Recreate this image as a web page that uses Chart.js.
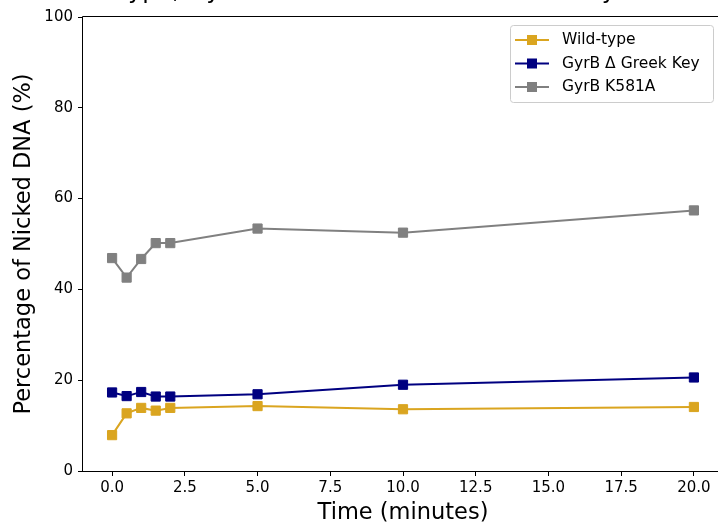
<!DOCTYPE html>
<html>
<head>
<meta charset="utf-8">
<script src="https://cdn.jsdelivr.net/npm/chart.js@4/dist/chart.umd.min.js"></script>
<style>
  html, body { margin: 0; padding: 0; background: #fff; overflow: hidden; }
  #wrap { position: relative; width: 718px; height: 524px; overflow: hidden; }
  canvas { position: absolute; left: 0; top: 0; }
</style>
</head>
<body>
<div id="wrap"><canvas id="chart" width="760" height="524"></canvas></div>
<script>
// Sampling times (minutes)
const times = [0, 0.5, 1, 1.5, 2, 5, 10, 20];

// Percentage of nicked DNA for each enzyme
const wildType  = [7.9, 12.7, 13.9, 13.3, 13.9, 14.3, 13.6, 14.1];
const greekKey  = [17.3, 16.5, 17.4, 16.4, 16.4, 16.9, 19.0, 20.6];
const k581a     = [46.9, 42.6, 46.7, 50.2, 50.2, 53.4, 52.5, 57.4];

const seriesLabels = ['Wild-type', 'GyrB \u0394 Greek Key', 'GyrB K581A'];
const seriesColors = ['#DAA520', '#000080', '#808080'];

const xTicks = [0, 2.5, 5, 7.5, 10, 12.5, 15, 17.5, 20];
const yTicks = [0, 20, 40, 60, 80, 100];

const titleText = 'Wild-type, GyrB Mutants: Nicked DNA in Assay Over Time';
const xTitle = 'Time (minutes)';
const yTitle = 'Percentage of Nicked DNA (%)';

const FONT = '"DejaVu Sans", sans-serif';
Chart.defaults.font.family = FONT;
Chart.defaults.color = '#000';

function toPoints(values) {
  return times.map((t, i) => ({ x: t, y: values[i] }));
}

function makeDataset(label, values, color) {
  return {
    label,
    data: toPoints(values),
    borderColor: color,
    backgroundColor: color,
    borderWidth: 2,
    pointStyle: 'rect',
    pointRadius: 6.5,
    pointHoverRadius: 6.5,
    pointBorderWidth: 1,
    pointBorderColor: color,
    pointBackgroundColor: color,
    tension: 0,
    clip: false
  };
}

// Axes frame (top, left, bottom), title and boxed legend in the upper right
const framePlugin = {
  id: 'frame',
  afterDatasetsDraw(chart) {
    const { ctx, chartArea: a } = chart;
    const l = a.left - 0.5, t = a.top - 0.5, b = a.bottom + 0.5, r = a.right + 0.5;
    ctx.save();
    ctx.strokeStyle = '#000';
    ctx.lineWidth = 1;
    ctx.beginPath();
    ctx.moveTo(r, t); ctx.lineTo(l, t); ctx.lineTo(l, b); ctx.lineTo(r, b);
    ctx.stroke();
    ctx.restore();
  },
  afterDraw(chart) {
    const { ctx, chartArea: a } = chart;
    ctx.save();
    // title (sits mostly above the visible page)
    ctx.fillStyle = '#000';
    ctx.font = '24px ' + FONT;
    ctx.textAlign = 'center';
    ctx.textBaseline = 'alphabetic';
    ctx.fillText(titleText, (a.left + a.right) / 2, -2);

    // legend box
    const bx = 510.5, by = 25.5, bw = 203, bh = 77, r = 3;
    ctx.beginPath();
    ctx.moveTo(bx + r, by);
    ctx.lineTo(bx + bw - r, by);
    ctx.quadraticCurveTo(bx + bw, by, bx + bw, by + r);
    ctx.lineTo(bx + bw, by + bh - r);
    ctx.quadraticCurveTo(bx + bw, by + bh, bx + bw - r, by + bh);
    ctx.lineTo(bx + r, by + bh);
    ctx.quadraticCurveTo(bx, by + bh, bx, by + bh - r);
    ctx.lineTo(bx, by + r);
    ctx.quadraticCurveTo(bx, by, bx + r, by);
    ctx.closePath();
    ctx.fillStyle = 'rgba(255,255,255,0.8)';
    ctx.fill();
    ctx.strokeStyle = '#cccccc';
    ctx.lineWidth = 1;
    ctx.stroke();

    const rows = [40, 63.5, 87];
    chart.data.datasets.forEach((ds, i) => {
      const y = rows[i];
      ctx.strokeStyle = ds.borderColor;
      ctx.lineWidth = 2;
      ctx.beginPath();
      ctx.moveTo(515, y);
      ctx.lineTo(549, y);
      ctx.stroke();
      ctx.fillStyle = ds.borderColor;
      ctx.fillRect(527, y - 5, 10, 10);
      ctx.fillStyle = '#000';
      ctx.font = '15.5px ' + FONT;
      ctx.textAlign = 'left';
      ctx.textBaseline = 'middle';
      ctx.fillText(ds.label, 562, y);
    });
    ctx.restore();
  }
};

new Chart(document.getElementById('chart'), {
  type: 'line',
  data: {
    datasets: [
      makeDataset(seriesLabels[0], wildType, seriesColors[0]),
      makeDataset(seriesLabels[1], greekKey, seriesColors[1]),
      makeDataset(seriesLabels[2], k581a, seriesColors[2])
    ]
  },
  options: {
    responsive: false,
    animation: false,
    layout: { padding: { left: 0, right: 37, top: 17, bottom: 0 } },
    plugins: {
      legend: { display: false },
      title: { display: false },
      tooltip: { enabled: false }
    },
    scales: {
      x: {
        type: 'linear',
        min: -1,
        max: 21,
        afterBuildTicks(scale) { scale.ticks = xTicks.map(v => ({ value: v })); },
        afterFit(scale) { scale.height = 53; },
        grid: { drawOnChartArea: false, drawTicks: true, tickLength: 5, color: '#000', lineWidth: 1 },
        border: { display: false },
        ticks: {
          autoSkip: false,
          maxRotation: 0,
          padding: 3,
          font: { size: 15 },
          color: '#000',
          callback: v => Number(v).toFixed(1)
        },
        title: {
          display: true,
          text: xTitle,
          font: { size: 22.5, lineHeight: 1 },
          padding: { top: 0, bottom: 0 },
          color: '#000'
        }
      },
      y: {
        type: 'linear',
        min: 0,
        max: 100,
        afterBuildTicks(scale) { scale.ticks = yTicks.map(v => ({ value: v })); },
        afterFit(scale) { scale.width = 83; },
        grid: { drawOnChartArea: false, drawTicks: true, tickLength: 5, color: '#000', lineWidth: 1 },
        border: { display: false },
        ticks: {
          autoSkip: false,
          padding: 5,
          font: { size: 15 },
          color: '#000',
          callback: v => String(v)
        },
        title: {
          display: true,
          text: yTitle,
          font: { size: 22.5, lineHeight: 1 },
          padding: { top: 13, bottom: 0 },
          color: '#000'
        }
      }
    }
  },
  plugins: [framePlugin]
});
</script>
</body>
</html>
